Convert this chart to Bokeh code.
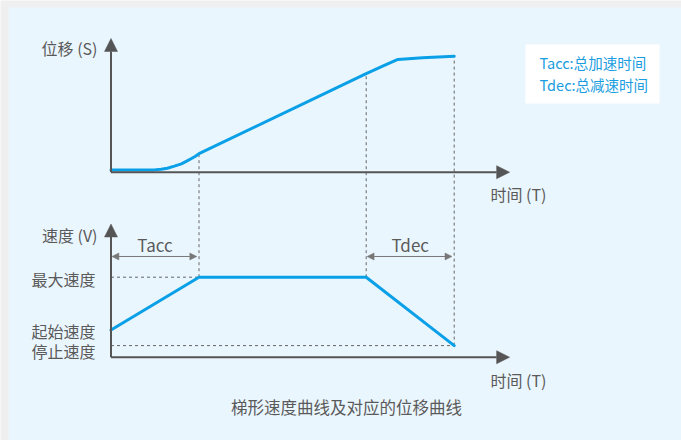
import numpy as np
from bokeh.plotting import figure
from bokeh.models import Range1d, Arrow, NormalHead, Label, BoxAnnotation
from bokeh.embed import file_html
from bokeh.resources import INLINE

# ---------------- data ----------------
# key times (time units)
T_ACC = 1.0
T_DEC_START = 2.9
T_END = 3.9

# displacement curve S(t)
t_pos = [0.0, 0.49, 0.57, 0.64, 0.72, 0.80, 0.86, 0.91, 0.96, 1.0, 2.9, 3.1, 3.26, 3.54, 3.9]
s_pos = [0.02, 0.02, 0.026, 0.034, 0.052, 0.072, 0.095, 0.116, 0.138, 0.16, 0.85, 0.918, 0.972, 0.986, 1.0]

# trapezoidal velocity curve V(t)
V_MAX = 1.0
V_START = 0.34
V_STOP = 0.145
t_vel = [0.0, T_ACC, T_DEC_START, T_END]
v_vel = [V_START, V_MAX, V_MAX, V_STOP]

y_labels_vel = ["最大速度", "起始速度", "停止速度"]
legend_lines = ["Tacc:总加速时间", "Tdec:总减速时间"]
caption = "梯形速度曲线及对应的位移曲线"

# ---------------- style ----------------
W, H = 681, 440
PAGE_BG = "#efefef"
BG = "#eaf6fe"
BLUE = "#0aa0e8"
LEG_BLUE = "#1a9de0"
AXIS = "#555555"
DASH = "#666666"
TEXT = "#5a5a5a"
FONT = "Noto Sans CJK SC"

# scales: pixels per unit
PX_T = 88.0
PX_S = 116.0
PX_V = 80.0
X0 = 110.5          # canvas x of t=0
S0 = 268.3          # canvas y (from bottom) of s=0
V0 = 83.3           # canvas y (from bottom) of v=0

x_rng = Range1d(-X0 / PX_T, (W - X0) / PX_T)
v_rng = Range1d(-V0 / PX_V, (H - V0) / PX_V)
s_rng = Range1d(-S0 / PX_S, (H - S0) / PX_S)

p = figure(width=W, height=H, output_backend="svg", toolbar_location=None,
           x_range=x_rng, y_range=v_rng,
           x_axis_location=None, y_axis_location=None,
           min_border=0, outline_line_color=None,
           background_fill_color=PAGE_BG, border_fill_color=PAGE_BG)
p.extra_y_ranges = {"pos": s_rng, "img": Range1d(H, 0)}
p.extra_x_ranges = {"img": Range1d(0, W)}
p.xgrid.visible = False
p.ygrid.visible = False

# light blue panel
p.add_layout(BoxAnnotation(left=8, right=W + 5, top=7, bottom=H + 5,
                           x_range_name="img", y_range_name="img", level="underlay",
                           fill_color=BG, fill_alpha=1.0, line_color=None))


def pos_to_vel(s):
    frac = (s - s_rng.start) / (s_rng.end - s_rng.start)
    return v_rng.start + frac * (v_rng.end - v_rng.start)


s_at = lambda t: float(np.interp(t, t_pos, s_pos))

# ---------------- dashed guides ----------------
dash_kw = dict(line_color=DASH, line_width=1, line_dash="3 3")
p.segment(x0=[T_ACC, T_DEC_START, T_END],
          y0=[V_MAX, V_MAX, V_STOP],
          x1=[T_ACC, T_DEC_START, T_END],
          y1=[pos_to_vel(s_at(T_ACC)), pos_to_vel(s_at(T_DEC_START)), pos_to_vel(s_at(T_END))],
          **dash_kw)
p.segment(x0=[0, 0], y0=[V_MAX, V_STOP], x1=[T_ACC, T_END], y1=[V_MAX, V_STOP], **dash_kw)

# ---------------- axes (arrows) ----------------
T_AXIS_END = 4.53
S_AXIS_END = 1.153
V_AXIS_END = 1.665


def axis_arrow(x1, y1, rname):
    head = NormalHead(size=13, fill_color=AXIS, line_color=AXIS, line_width=0.5)
    kw = dict(x_start=0, y_start=0, x_end=x1, y_end=y1, line_color=AXIS, line_width=2,
              start=None, end=head)
    if rname:
        kw["y_range_name"] = rname
    p.add_layout(Arrow(**kw))


axis_arrow(0, S_AXIS_END, "pos")
axis_arrow(T_AXIS_END, 0, "pos")
axis_arrow(0, V_AXIS_END, None)
axis_arrow(T_AXIS_END, 0, None)

# ---------------- curves ----------------
p.line(t_pos, s_pos, y_range_name="pos", line_color=BLUE, line_width=3,
       line_join="round", line_cap="round")
p.line(t_vel, v_vel, line_color=BLUE, line_width=3, line_join="round", line_cap="round")

# ---------------- Tacc / Tdec dimension arrows ----------------
DIM_V = 1.259
for a, b, name in [(0, T_ACC, "Tacc"), (T_DEC_START, T_END, "Tdec")]:
    p.add_layout(Arrow(x_start=a + 0.01, y_start=DIM_V, x_end=b - 0.025, y_end=DIM_V,
                       line_color="#777777", line_width=1,
                       start=NormalHead(size=7, fill_color="#777777", line_color="#777777", line_width=0.5),
                       end=NormalHead(size=7, fill_color="#777777", line_color="#777777", line_width=0.5)))
    p.add_layout(Label(x=(a + b) / 2, y=DIM_V + 0.15, text=name, text_align="center",
                       text_baseline="middle", text_font=FONT, text_font_size="17px",
                       text_color=TEXT))

# ---------------- texts ----------------
def img_label(x, y, text, align="left", size="16px", color=TEXT):
    p.add_layout(Label(x=x, y=y, x_range_name="img", y_range_name="img", text=text,
                       text_align=align, text_baseline="middle", text_font=FONT,
                       text_font_size=size, text_color=color))


img_label(97, 47, "位移 (S)", "right")
img_label(97, 234, "速度 (V)", "right")
img_label(95, 278, y_labels_vel[0], "right")
img_label(95, 330, y_labels_vel[1], "right")
img_label(95, 350, y_labels_vel[2], "right")
img_label(490, 193, "时间 (T)")
img_label(490, 379, "时间 (T)")
img_label(346, 406, caption, "center", "16.5px")

# legend box
p.add_layout(BoxAnnotation(left=525, right=659, top=44, bottom=103,
                           x_range_name="img", y_range_name="img",
                           fill_color="white", fill_alpha=1.0, line_color=None))
img_label(539, 62, legend_lines[0], "left", "14.5px", LEG_BLUE)
img_label(539, 84, legend_lines[1], "left", "14.5px", LEG_BLUE)

open("out.html", "w").write(file_html(p, INLINE))
